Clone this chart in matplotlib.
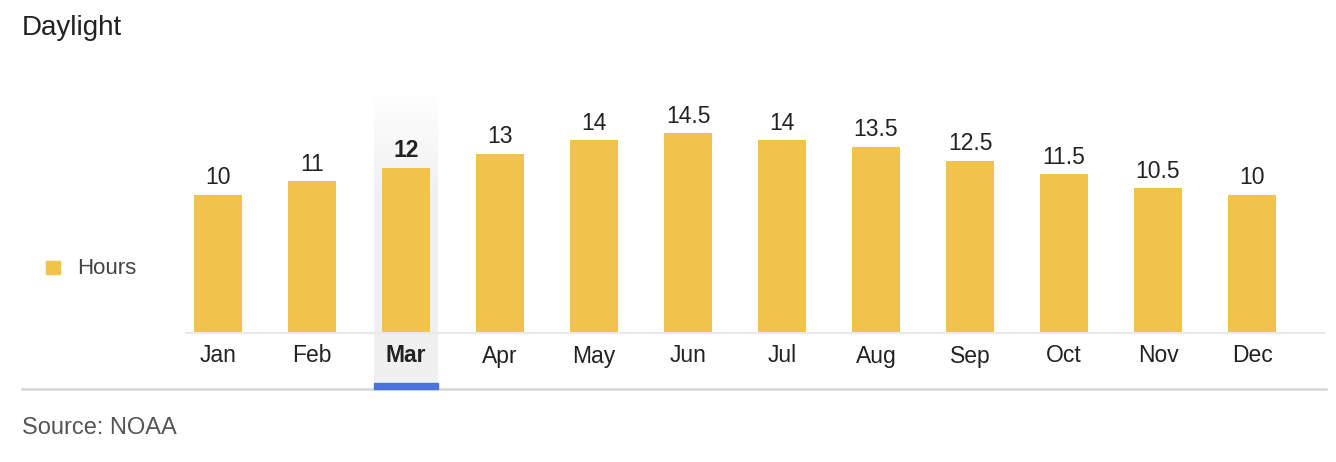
import matplotlib
matplotlib.use("Agg")
import matplotlib.pyplot as plt
import numpy as np
from matplotlib.lines import Line2D
from matplotlib.patches import Rectangle

months = ["Jan", "Feb", "Mar", "Apr", "May", "Jun", "Jul", "Aug", "Sep", "Oct", "Nov", "Dec"]
hours = [10, 11, 12, 13, 14, 14.5, 14, 13.5, 12.5, 11.5, 10.5, 10]
labels = ["10", "11", "12", "13", "14", "14.5", "14", "13.5", "12.5", "11.5", "10.5", "10"]
selected = 2

W, H = 1336, 462
bar_color = "#F1C34A"
plt.rcParams["font.family"] = ["Liberation Sans", "DejaVu Sans"]

fig = plt.figure(figsize=(W / 100, H / 100), dpi=100)
fig.patch.set_facecolor("white")

def fx(px):
    return px / W

def fy(py):
    return 1 - py / H

# highlight column behind selected month (gradient fading at the top)
hl = fig.add_axes([fx(374), fy(383), fx(64), (383 - 90) / H], zorder=0)
grad = np.ones((100, 1, 4))
grad[..., :3] = 0.945
alpha = np.clip(np.linspace(0, 1, 100) / 0.35, 0, 1)
grad[:, 0, 3] = alpha
hl.imshow(grad, aspect="auto", origin="upper", extent=[0, 1, 0, 1])
hl.axis("off")

ax = fig.add_axes([fx(171), fy(332), fx(1128), 252 / H], zorder=1)
ax.set_facecolor("none")
x = np.arange(len(months))
ax.bar(x, hours, width=48 / 94, color=bar_color, zorder=2)
ax.set_xlim(-0.5, len(months) - 0.5)
ax.set_ylim(0, 252 / 13.7)
for s in ax.spines.values():
    s.set_visible(False)
ax.set_yticks([])
ax.set_xticks(x)
ax.set_xticklabels(months, fontsize=16.5, color="#222222")
ax.tick_params(axis="x", length=0, pad=9)
for i, t in enumerate(ax.get_xticklabels()):
    if i == selected:
        t.set_fontweight("bold")

for i, (v, lab) in enumerate(zip(hours, labels)):
    ax.annotate(lab, (i, v), xytext=(0, 4), textcoords="offset points",
                ha="center", va="bottom", fontsize=16.5, color="#222222",
                fontweight="bold" if i == selected else "normal")

# baseline and bottom rule
fig.add_artist(Line2D([fx(186), fx(1324)], [fy(332.5), fy(332.5)], color="#e8e8e8", lw=1.5, zorder=3))
fig.add_artist(Line2D([fx(22), fx(1326)], [fy(389), fy(389)], color="#d6d6d6", lw=1.8, zorder=3))
# selected indicator
fig.add_artist(Rectangle((fx(374), fy(389)), fx(64), 6 / H, transform=fig.transFigure,
                         color="#4A73E0", zorder=4))

# legend
fig.add_artist(Rectangle((fx(46), fy(274)), fx(14), 13 / H, transform=fig.transFigure,
                         color=bar_color))
fig.text(fx(77), fy(268), "Hours", fontsize=16, color="#444444", va="center", ha="left")

fig.text(fx(22), fy(28), "Daylight", fontsize=20, color="#222222", va="center", ha="left")
fig.text(fx(22), fy(428), "Source: NOAA", fontsize=17, color="#555555", va="center", ha="left")

fig.savefig("out.png", dpi=100, facecolor="white")
